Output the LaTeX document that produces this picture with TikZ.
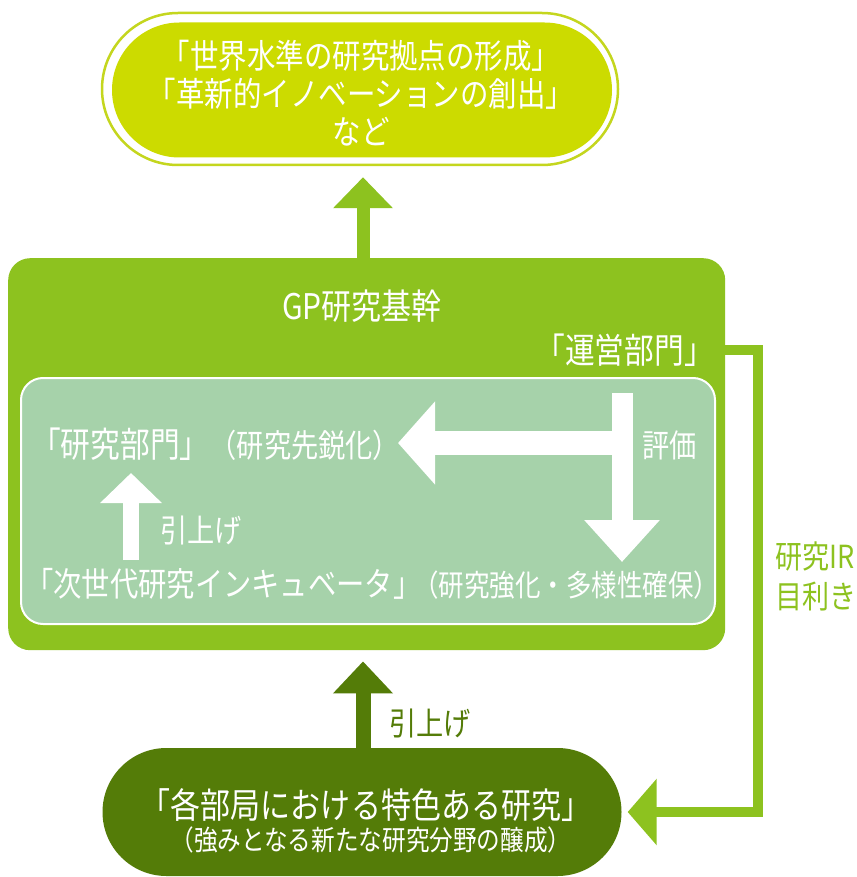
\documentclass[tikz,border=0pt]{standalone}
\usepackage{fontspec}
\newfontfamily\jp[FakeStretch=0.85]{Noto Sans CJK JP}
\usetikzlibrary{arrows.meta,shapes.misc}
\definecolor{topfill}{RGB}{204,219,0}
\definecolor{topline}{RGB}{196,214,30}
\definecolor{mgreen}{RGB}{141,194,31}
\definecolor{igreen}{RGB}{166,210,170}
\definecolor{dgreen}{RGB}{84,124,8}
\newcommand{\fs}[1]{\fontsize{#1}{#1}\selectfont}
\tikzset{
  txt/.style={inner sep=0pt, font=\jp, text=white},
  pill/.style={rounded rectangle, inner sep=0pt},
}
\begin{document}
\begin{tikzpicture}[x=1pt,y=-1pt]
\useasboundingbox (0,0) rectangle (856,877);
\fill[white] (0,0) rectangle (856,877);

% top pill
\node[pill, draw=topline, line width=2.5pt, fill=white, minimum width=516pt, minimum height=152pt] (topout) at (360,89) {};
\node[pill, fill=topfill, minimum width=500pt, minimum height=135pt] (toppill) at (362,90) {};
\node[txt, align=center, font=\jp\fs{33.5}, execute at begin node={\baselineskip=38pt}] (toptext) at (361,93)
  {「世界水準の研究拠点の形成」\\「革新的イノベーションの創出」\\など};

% main box
\node[fill=mgreen, rounded corners=22pt, minimum width=717pt, minimum height=392pt, inner sep=0pt, anchor=north west] (main) at (8,258) {};
\node[fill=igreen, draw=white, line width=2pt, rounded corners=22pt, minimum width=694pt, minimum height=246pt, inner sep=0pt, anchor=north west] (inner) at (20,377) {};

\node[txt, font=\jp\fs{35.3}] (gp) at (362,306) {GP研究基幹};
\node[txt, font=\jp\fs{35}, anchor=east] (unei) at (714,350) {「運営部門」};

\node[txt, anchor=west] (kenkyu) at (31,444) {{\fs{35}「研究部門」}{\fs{32}（研究先鋭化）}};
\node[txt, anchor=west] (incub) at (25,584) {{\fs{33.3}「次世代研究インキュベータ」}\kern-8pt{\fs{30}（研究強化・多様性確保）}};
\node[txt, font=\jp\fs{32}, anchor=west] (hyouka) at (642,445) {評価};
\node[txt, font=\jp\fs{32}, anchor=west] (hikiage1) at (160,530) {引上げ};

% white arrows inside
\coordinate (v1) at (622,393);
\coordinate (v2) at (622,562);
\coordinate (h1) at (622,443);
\coordinate (h2) at (398,443);
\coordinate (u1) at (131,560);
\coordinate (u2) at (131,473);
\draw[white, line width=21pt, -{Triangle[width=73pt,length=42pt]}] (v1) -- (v2);
\draw[white, line width=24pt, -{Triangle[width=81pt,length=37pt]}] (h1) -- (h2);
\draw[white, line width=16pt, -{Triangle[width=60pt,length=30pt]}] (u1) -- (u2);

% bottom pill
\node[pill, fill=dgreen, minimum width=519pt, minimum height=128pt] (bottom) at (362,812) {};
\node[txt, font=\jp\fs{35.3}] (b1) at (366,805) {「各部局における特色ある研究」};
\node[txt, font=\jp\fs{27.8}] (b2) at (371,840) {（強みとなる新たな研究分野の醸成）};

\node[txt, font=\jp\fs{32}, text=dgreen, anchor=west] (hikiage2) at (389,723) {引上げ};
\node[txt, font=\jp\fs{31.8}, text=mgreen, anchor=west, align=left, execute at begin node={\baselineskip=40pt}] (ir) at (775,576) {研究IR\\目利き};

% connectors
\coordinate (ux) at (363,0);
\draw[mgreen, line width=13pt, -{Triangle[width=58pt,length=31pt]}, shorten >=11pt] (ux |- main.north) -- (ux |- topout.south);
\draw[dgreen, line width=15pt, -{Triangle[width=58pt,length=32pt]}, shorten >=11pt] (ux |- bottom.north) -- (ux |- main.south);
\coordinate (c1) at (758,350);
\draw[mgreen, line width=9.5pt, line join=miter, -{Triangle[width=65pt,length=29pt]}, shorten >=6pt] (main.east |- c1) -- (c1) -- (c1 |- bottom.east) -- (bottom.east);
\end{tikzpicture}
\end{document}
